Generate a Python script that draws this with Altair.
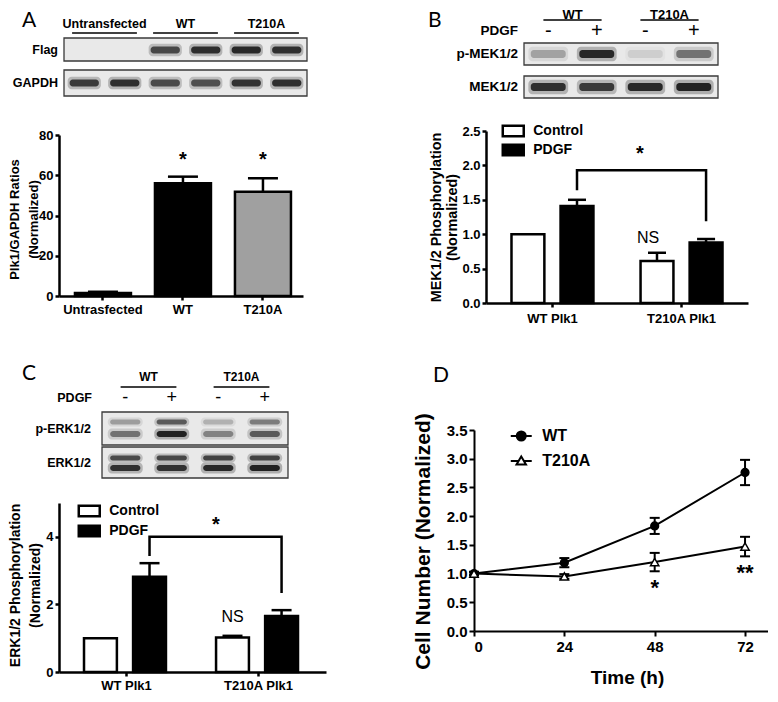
import altair as alt
import pandas as pd

FONT = "Liberation Sans"
LFONT = "Lato"

# ---------------- Panel A ----------------
A_blot_groups = ["Untransfected", "WT", "T210A"]
A_rows = ["Flag", "GAPDH"]
A_flag = [0.0, 0.0, 0.72, 0.88, 0.90, 0.86]
A_gapdh = [0.80, 0.86, 0.70, 0.68, 0.84, 0.86]
A_cats = ["Untrasfected", "WT", "T210A"]
A_values = [1.5, 56.0, 51.8]
A_errors = [0.6, 3.3, 6.7]
A_stars = ["", "*", "*"]
A_star_y = 67.6
A_fills = ["#000000", "#000000", "#a0a0a0"]

# ---------------- Panel B ----------------
B_blot_groups = ["WT", "T210A"]
B_rows = ["p-MEK1/2", "MEK1/2"]
PDGF_SIGNS = ["-", "+", "-", "+"]
B_pmek = [0.28, 0.90, 0.10, 0.50]
B_mek = [0.86, 0.80, 0.90, 0.95]
GROUPS = ["WT Plk1", "T210A Plk1"]
TREAT = ["Control", "PDGF"]
B_control = [1.0, 0.61]
B_control_err = [0.0, 0.12]
B_pdgf = [1.41, 0.88]
B_pdgf_err = [0.09, 0.05]
B_bracket = [1.64, 1.93, 1.93, 1.19]
B_star_y = 2.17
B_ns_y = 0.95
B_yticks = [0, 0.5, 1.0, 1.5, 2.0, 2.5]

# ---------------- Panel C ----------------
C_blot_groups = ["WT", "T210A"]
C_rows = ["p-ERK1/2", "ERK1/2"]
C_perk_upper = [0.30, 0.62, 0.22, 0.45]
C_perk_lower = [0.50, 0.95, 0.42, 0.62]
C_erk_upper = [0.70, 0.72, 0.75, 0.75]
C_erk_lower = [0.85, 0.85, 0.90, 0.95]
C_control = [1.0, 1.02]
C_control_err = [0.0, 0.05]
C_pdgf = [2.82, 1.66]
C_pdgf_err = [0.40, 0.17]
C_bracket = [3.43, 4.0, 4.0, 2.34]
C_star_y = 4.34
C_ns_y = 1.63
C_yticks = [0, 2, 4]

# ---------------- Panel D ----------------
D_time = [0, 24, 48, 72]
D_series = ["WT", "T210A"]
D_wt = [1.0, 1.19, 1.83, 2.76]
D_wt_err = [0.03, 0.08, 0.14, 0.22]
D_t210a = [1.0, 0.95, 1.20, 1.47]
D_t210a_err = [0.03, 0.04, 0.16, 0.17]
D_star_time = [48, 72]
D_star_text = ["*", "**"]
D_star_y = [0.75, 1.01]
D_yticks = [0, 0.5, 1.0, 1.5, 2.0, 2.5, 3.0, 3.5]

NONPOS = dict(color="independent", fill="independent", shape="independent",
              size="independent", opacity="independent")


def axis(**kw):
    base = dict(domainColor="black", tickColor="black", labelColor="black",
                titleColor="black", labelFont=FONT, titleFont=FONT,
                labelFontWeight="bold", titleFontWeight="bold", grid=False,
                tickSize=4, domainWidth=2.5, tickWidth=2.5, labelOverlap=False)
    base.update(kw)
    return alt.Axis(**base)


def blot(W, H, box_l, box_r, n_lanes, rows, bands, groups, hdr_y, ul_y, inset,
         hdr_size, lbl_size, lbl_gap, letter, letter_xy, band_frac,
         signs=None, sign_y=None, sign_size=20, pdgf_gap=6):
    k = (box_r - box_l) / n_lanes
    sx = alt.Scale(domain=[-box_l / k, (W - box_l) / k], nice=False, zero=False)
    sy = alt.Scale(domain=[0, H], nice=False, zero=False, reverse=True)

    def X(f):
        return alt.X(f + ":Q", scale=sx, axis=None)

    def Y(f):
        return alt.Y(f + ":Q", scale=sy, axis=None)

    layers = []
    box_df = pd.DataFrame([{"x": 0, "x2": n_lanes, "y": t, "y2": b} for (_, t, b) in rows])
    layers.append(alt.Chart(box_df).mark_rect(fill="#e9e9e9", stroke="#3a3a3a", strokeWidth=1.3)
                  .encode(x=X("x"), x2="x2:Q", y=Y("y"), y2="y2:Q"))
    halo, core = [], []
    for (yc, th, vals) in bands:
        for i, v in enumerate(vals):
            c = i + 0.5
            halo.append({"x": c - band_frac / 2 - 0.05, "x2": c + band_frac / 2 + 0.05,
                         "y": yc - th * 0.9, "y2": yc + th * 0.9, "v": v * 0.3})
            core.append({"x": c - band_frac / 2, "x2": c + band_frac / 2,
                         "y": yc - th / 2, "y2": yc + th / 2, "v": v})
    for recs, rad in ((halo, 4), (core, 3)):
        layers.append(alt.Chart(pd.DataFrame(recs)).mark_rect(fill="#1a1a1a", cornerRadius=rad)
                      .encode(x=X("x"), x2="x2:Q", y=Y("y"), y2="y2:Q",
                              opacity=alt.Opacity("v:Q", scale=None)))
    lab_df = pd.DataFrame([{"x": -lbl_gap / k, "y": (t + b) / 2, "t": name} for (name, t, b) in rows])
    layers.append(alt.Chart(lab_df).mark_text(align="right", baseline="middle", font=FONT,
                                              fontWeight="bold", fontSize=lbl_size, color="black")
                  .encode(x=X("x"), y=Y("y"), text="t:N"))
    span = n_lanes / len(groups)
    hdr_df = pd.DataFrame([{"x": (g + 0.5) * span, "y": hdr_y, "t": name} for g, name in enumerate(groups)])
    layers.append(alt.Chart(hdr_df).mark_text(align="center", baseline="middle", font=FONT,
                                              fontWeight="bold", fontSize=hdr_size, color="black")
                  .encode(x=X("x"), y=Y("y"), text="t:N"))
    ul_df = pd.DataFrame([{"x": g * span + inset, "x2": (g + 1) * span - inset, "y": ul_y}
                          for g in range(len(groups))])
    layers.append(alt.Chart(ul_df).mark_rule(color="black", strokeWidth=1.6)
                  .encode(x=X("x"), x2="x2:Q", y=Y("y")))
    if signs is not None:
        sg_df = pd.DataFrame([{"x": i + 0.5, "y": sign_y, "t": s} for i, s in enumerate(signs)])
        layers.append(alt.Chart(sg_df).mark_text(align="center", baseline="middle", font=FONT,
                                                 fontSize=sign_size, color="black")
                      .encode(x=X("x"), y=Y("y"), text="t:N"))
        pd_df = pd.DataFrame([{"x": -pdgf_gap / k, "y": sign_y, "t": "PDGF"}])
        layers.append(alt.Chart(pd_df).mark_text(align="right", baseline="middle", font=FONT,
                                                 fontWeight="bold", fontSize=lbl_size, color="black")
                      .encode(x=X("x"), y=Y("y"), text="t:N"))
    let_df = pd.DataFrame([{"x": (letter_xy[0] - box_l) / k, "y": letter_xy[1], "t": letter}])
    layers.append(alt.Chart(let_df).mark_text(align="left", baseline="top", font=LFONT,
                                              fontSize=21, color="black")
                  .encode(x=X("x"), y=Y("y"), text="t:N"))
    return alt.layer(*layers).properties(width=W, height=H)


def grouped(ctrl, ctrl_err, pdgf, pdgf_err, bracket, star_y, ns_y, W, H, ydom, yticks,
            yfmt, title, t_size, t_lh, t_x, t_y, gpad, galign, opi, opo, cap,
            leg_x, leg_y, leg_rp, star_dx, ns_dx, lab_pad):
    rows = []
    for g, v, e in zip(GROUPS, ctrl, ctrl_err):
        rows.append({"group": g, "treatment": "Control", "value": v, "hi": v + e, "err": e})
    for g, v, e in zip(GROUPS, pdgf, pdgf_err):
        rows.append({"group": g, "treatment": "PDGF", "value": v, "hi": v + e, "err": e})
    df = pd.DataFrame(rows)
    x = alt.X("group:N", sort=GROUPS,
              scale=alt.Scale(domain=GROUPS, paddingInner=0, paddingOuter=gpad, align=galign),
              axis=axis(title=None, labelAngle=0, labelFontSize=13, labelPadding=lab_pad))
    xo = alt.XOffset("treatment:N", sort=TREAT,
                     scale=alt.Scale(domain=TREAT, paddingInner=opi, paddingOuter=opo))
    yscale = alt.Scale(domain=ydom, nice=False)
    ykw = dict(values=yticks, format=yfmt, title=title, titleFontSize=t_size,
               titleAngle=270, titleBaseline="top", titleAlign="center", titleX=t_x,
               titleY=t_y, labelFontSize=13, labelPadding=2)
    if t_lh:
        ykw["titleLineHeight"] = t_lh
    yaxis = axis(**ykw)

    def Y(f):
        return alt.Y(f + ":Q", scale=yscale, axis=yaxis)

    bars = alt.Chart(df).mark_bar(stroke="black", strokeWidth=2.5).encode(
        x=x, xOffset=xo, y=Y("value"),
        color=alt.Color("treatment:N", scale=alt.Scale(domain=TREAT, range=["#ffffff", "#000000"]),
                        legend=alt.Legend(title=None, orient="none", legendX=leg_x, legendY=leg_y,
                                          symbolType="M-2,-1H2V1H-2Z", symbolSize=110,
                                          symbolStrokeColor="black", symbolStrokeWidth=2.5,
                                          labelFont=FONT, labelFontWeight="bold", labelFontSize=14,
                                          labelColor="black", labelOffset=13, rowPadding=leg_rp,
                                          padding=0)))
    err = alt.Chart(df).transform_filter("datum.err > 0").mark_rule(color="black", strokeWidth=2.5).encode(
        x=x, xOffset=xo, y=Y("value"), y2="hi:Q")
    caps = alt.Chart(df).transform_filter("datum.err > 0").mark_tick(
        color="black", thickness=2.5, size=cap, opacity=1).encode(x=x, xOffset=xo, y=Y("hi"))
    br_df = pd.DataFrame({"group": [GROUPS[0], GROUPS[0], GROUPS[1], GROUPS[1]],
                          "treatment": ["PDGF"] * 4, "value": bracket, "o": [0, 1, 2, 3]})
    br = alt.Chart(br_df).mark_line(color="black", strokeWidth=2.5).encode(
        x=x, xOffset=xo, y=Y("value"), order="o:Q")
    st_df = pd.DataFrame({"group": [GROUPS[1]], "treatment": ["Control"], "value": [star_y], "t": ["*"]})
    st = alt.Chart(st_df).mark_text(font=FONT, fontWeight="bold", fontSize=20, dx=star_dx,
                                    baseline="middle", color="black").encode(
        x=x, xOffset=xo, y=Y("value"), text="t:N")
    ns_df = pd.DataFrame({"group": [GROUPS[1]], "treatment": ["Control"], "value": [ns_y], "t": ["NS"]})
    ns = alt.Chart(ns_df).mark_text(font=FONT, fontSize=16, dx=ns_dx, baseline="middle",
                                    color="black").encode(x=x, xOffset=xo, y=Y("value"), text="t:N")
    return alt.layer(bars, err, caps, br, st, ns).properties(width=W, height=H)


# ---------------- build A ----------------
a_blot = blot(W=244, H=60, box_l=5, box_r=248, n_lanes=6,
              rows=[(A_rows[0], 0, 23), (A_rows[1], 32, 58)],
              bands=[(12, 7, A_flag), (45, 7, A_gapdh)],
              groups=A_blot_groups, hdr_y=-14, ul_y=-5, inset=0.2,
              hdr_size=12.5, lbl_size=12.5, lbl_gap=6, letter="A", letter_xy=(-37, -28),
              band_frac=0.72)

a_df = pd.DataFrame({"cat": A_cats, "value": A_values,
                     "hi": [v + e for v, e in zip(A_values, A_errors)],
                     "t": A_stars, "sy": [A_star_y] * 3})
ax = alt.X("cat:N", sort=A_cats,
           scale=alt.Scale(domain=A_cats, paddingInner=0.3, paddingOuter=0.175, align=0.57),
           axis=axis(title=None, labelAngle=0, labelFontSize=13, labelPadding=3))
a_yscale = alt.Scale(domain=[0, 80], nice=False)
a_yaxis = axis(values=[0, 20, 40, 60, 80], title=["Plk1/GAPDH Ratios", "(Normalized)"],
               titleFontSize=13, titleLineHeight=19, titleAngle=270, titleBaseline="top",
               titleAlign="center", titleX=-51, titleY=84, labelFontSize=13, labelPadding=2)


def AY(f):
    return alt.Y(f + ":Q", scale=a_yscale, axis=a_yaxis)


a_bars = alt.Chart(a_df).mark_bar(stroke="black", strokeWidth=2.5).encode(
    x=ax, y=AY("value"), fill=alt.Fill("cat:N", scale=alt.Scale(domain=A_cats, range=A_fills), legend=None))
a_err = alt.Chart(a_df).mark_rule(color="black", strokeWidth=2.5).encode(x=ax, y=AY("value"), y2="hi:Q")
a_cap = alt.Chart(a_df).mark_tick(color="black", thickness=2.5, size=30, opacity=1).encode(x=ax, y=AY("hi"))
a_star = alt.Chart(a_df).mark_text(font=FONT, fontWeight="bold", fontSize=20, baseline="middle",
                                   color="black").encode(x=ax, y=AY("sy"), text="t:N")
a_bar = alt.layer(a_bars, a_err, a_cap, a_star).properties(width=244, height=161)

# ---------------- build B ----------------
b_blot = blot(W=262, H=60, box_l=38, box_r=232, n_lanes=4,
              rows=[(B_rows[0], 5, 27), (B_rows[1], 38, 60)],
              bands=[(16, 8, B_pmek), (49, 8, B_mek)],
              groups=B_blot_groups, hdr_y=-23.5, ul_y=-18, inset=0.4,
              hdr_size=13, lbl_size=13.5, lbl_gap=6, letter="B", letter_xy=(-58, -28),
              band_frac=0.72, signs=PDGF_SIGNS, sign_y=-7, sign_size=20, pdgf_gap=6)
b_bar = grouped(B_control, B_control_err, B_pdgf, B_pdgf_err, B_bracket, B_star_y, B_ns_y,
                W=262, H=172, ydom=[0, 2.5], yticks=B_yticks, yfmt=".1f",
                title=["MEK1/2 Phosphorylation", "(Normalized)"], t_size=14.4, t_lh=None,
                t_x=-57, t_y=86, gpad=0.015, galign=0.5, opi=0.33, opo=0.48, cap=18,
                leg_x=20.25, leg_y=-7, leg_rp=-3, star_dx=-17, ns_dx=-9, lab_pad=5)

# ---------------- build C ----------------
c_blot = blot(W=267, H=66, box_l=43, box_r=229, n_lanes=4,
              rows=[(C_rows[0], 0, 33), (C_rows[1], 35, 66)],
              bands=[(10, 5, C_perk_upper), (22, 6, C_perk_lower),
                     (46, 5, C_erk_upper), (56, 6, C_erk_lower)],
              groups=C_blot_groups, hdr_y=-35, ul_y=-25, inset=0.4,
              hdr_size=12, lbl_size=12.5, lbl_gap=11, letter="C", letter_xy=(-37, -49),
              band_frac=0.65, signs=PDGF_SIGNS, sign_y=-14, sign_size=18, pdgf_gap=10)
c_bar = grouped(C_control, C_control_err, C_pdgf, C_pdgf_err, C_bracket, C_star_y, C_ns_y,
                W=267, H=169, ydom=[0, 5], yticks=C_yticks, yfmt="d",
                title=["ERK1/2 Phosphorylation", "(Normalized)"], t_size=14, t_lh=20,
                t_x=-51, t_y=82, gpad=0.011, galign=0.5, opi=0.3, opo=0.51, cap=20,
                leg_x=23.25, leg_y=1, leg_rp=-2, star_dx=-16.5, ns_dx=0, lab_pad=3)

# ---------------- build D ----------------
d_rows = []
for s, vals, errs in (("WT", D_wt, D_wt_err), ("T210A", D_t210a, D_t210a_err)):
    for t, v, e in zip(D_time, vals, errs):
        d_rows.append({"time": t, "value": v, "lo": v - e, "hi": v + e, "series": s})
d_df = pd.DataFrame(d_rows)
dx_ = alt.X("time:Q", scale=alt.Scale(domain=[0, 78.1], nice=False, zero=False),
            axis=axis(values=D_time, title="Time (h)", titleFontSize=19, titleBaseline="top",
                      titleY=37, titleX=153, labelFontSize=15, labelPadding=3, tickSize=5,
                      domainWidth=2, tickWidth=2))
d_yscale = alt.Scale(domain=[0, 3.5], nice=False)
d_yaxis = axis(values=D_yticks, format=".1f",
               title="Cell Number (Normalized)", titleFontSize=21, titleAngle=270,
               titleBaseline="top", titleAlign="center", titleX=-62, titleY=111,
               labelFontSize=15, labelPadding=2, tickSize=5, domainWidth=2, tickWidth=2)


def DY(f):
    return alt.Y(f + ":Q", scale=d_yscale, axis=d_yaxis)


d_line = alt.Chart(d_df).mark_line(color="black", strokeWidth=2).encode(
    x=dx_, y=DY("value"), detail="series:N")
d_err = alt.Chart(d_df).mark_rule(color="black", strokeWidth=2).encode(x=dx_, y=DY("lo"), y2="hi:Q")
d_cap_hi = alt.Chart(d_df).mark_tick(color="black", thickness=2, size=10, orient="horizontal",
                                     opacity=1).encode(x=dx_, y=DY("hi"))
d_cap_lo = alt.Chart(d_df).mark_tick(color="black", thickness=2, size=10, orient="horizontal",
                                     opacity=1).encode(x=dx_, y=DY("lo"))
d_pts = alt.Chart(d_df).mark_point(filled=True, stroke="black", strokeWidth=1.5, opacity=1).encode(
    x=dx_, y=DY("value"),
    shape=alt.Shape("series:N", scale=alt.Scale(domain=D_series, range=["circle", "triangle-up"]), legend=None),
    fill=alt.Fill("series:N", scale=alt.Scale(domain=D_series, range=["black", "white"]), legend=None),
    size=alt.Size("series:N", scale=alt.Scale(domain=D_series, range=[60, 70]), legend=None))
WT_PATH = ("M-2,0H2 "
           "M0.86,0A0.86,0.86 0 1,1 -0.86,0A0.86,0.86 0 1,1 0.86,0 "
           "M0.55,0A0.55,0.55 0 1,1 -0.55,0A0.55,0.55 0 1,1 0.55,0 "
           "M0.25,0A0.25,0.25 0 1,1 -0.25,0A0.25,0.25 0 1,1 0.25,0")
T_PATH = "M-2,0H-0.51 M0.51,0H2 M0,-0.85L0.9,0.65L-0.9,0.65Z"
d_leg = alt.Chart(d_df).transform_filter("false").mark_point(filled=False, color="black", opacity=1).encode(
    shape=alt.Shape("series:N", scale=alt.Scale(domain=D_series, range=[WT_PATH, T_PATH]),
                    legend=alt.Legend(title=None, orient="none", legendX=39.25, legendY=-2,
                                      symbolSize=110, symbolStrokeColor="black",
                                      symbolStrokeWidth=2, symbolFillColor="transparent",
                                      labelFont=FONT, labelFontWeight="bold", labelFontSize=16,
                                      labelColor="black", labelOffset=13, rowPadding=7, padding=0)))
st_df = pd.DataFrame({"time": D_star_time, "value": D_star_y, "t": D_star_text})
d_star = alt.Chart(st_df).mark_text(font=FONT, fontWeight="bold", fontSize=22, baseline="middle",
                                    color="black").encode(x=dx_, y=DY("value"), text="t:N")
d_letter = alt.Chart(pd.DataFrame({"t": ["D"]})).mark_text(
    font=LFONT, fontSize=21, align="left", baseline="top", color="black").encode(
    x=alt.value(-41), y=alt.value(-65), text="t:N")
d_chart = alt.layer(d_line, d_err, d_cap_hi, d_cap_lo, d_pts, d_star, d_leg, d_letter).resolve_scale(
    shape="independent").properties(width=294, height=201)
spacer = alt.Chart(pd.DataFrame({"s": [0]})).mark_point(opacity=0).properties(width=294, height=1)

# nested concat groups count as zero-size in flush layout: spacing = full offset
a_col = alt.vconcat(a_blot, a_bar, spacing=37, bounds="flush").resolve_scale(**NONPOS)
b_col = alt.vconcat(b_blot, b_bar, spacing=33, bounds="flush").resolve_scale(**NONPOS)
c_col = alt.vconcat(c_blot, c_bar, spacing=25, bounds="flush").resolve_scale(**NONPOS)
d_col = alt.vconcat(spacer, d_chart, spacing=17, bounds="flush").resolve_scale(**NONPOS)
row1 = alt.hconcat(a_col, b_col, spacing=427, bounds="flush").resolve_scale(**NONPOS)
row2 = alt.hconcat(c_col, d_col, spacing=415, bounds="flush").resolve_scale(**NONPOS)

chart = alt.vconcat(row1, row2, spacing=374, bounds="flush").resolve_scale(**NONPOS).properties(
    padding=0, background="white").configure_view(strokeWidth=0).configure_axis(labelOverlap=False)

chart.save("out.html", embed_options={"renderer": "svg", "actions": False})
